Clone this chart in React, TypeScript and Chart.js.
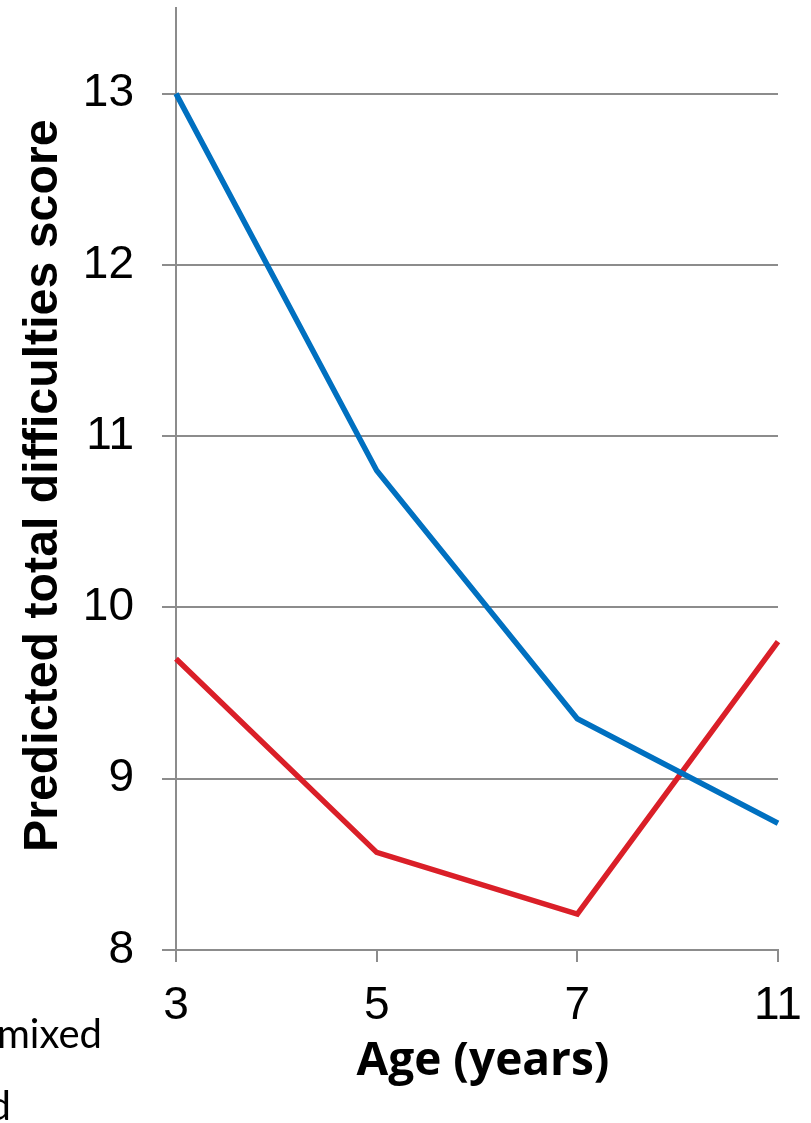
import React, { useEffect, useRef } from "react";
import { Chart, registerables } from "chart.js";

Chart.register(...registerables);

const ageLabels = ["3", "5", "7", "11"];
const blueSeries = [13.0, 10.8, 9.35, 8.74];
const redSeries = [9.7, 8.57, 8.21, 9.8];
const yTickValues = [8, 9, 10, 11, 12, 13];
const legendFragments = ["mixed", "d"];

const OFFSET_X = 200;

const legendPlugin = {
  id: "croppedLegend",
  afterDraw(chart: any) {
    const ctx = chart.ctx;
    ctx.save();
    ctx.fillStyle = "#000";
    ctx.font = "40px Lato";
    ctx.textAlign = "right";
    ctx.textBaseline = "alphabetic";
    ctx.fillText(legendFragments[0], OFFSET_X + 102, 1048);
    ctx.fillText(legendFragments[1], OFFSET_X + 11, 1120);
    ctx.restore();
  },
};

export default function App() {
  const ref = useRef<HTMLCanvasElement | null>(null);
  useEffect(() => {
    if (!ref.current) return;
    const chart = new Chart(ref.current, {
      type: "line",
      data: {
        labels: ageLabels,
        datasets: [
          {
            label: "Blue",
            data: blueSeries,
            borderColor: "#0070C0",
            backgroundColor: "#0070C0",
            borderWidth: 5.5,
            pointRadius: 0,
            tension: 0,
          },
          {
            label: "Red",
            data: redSeries,
            borderColor: "#DA1F28",
            backgroundColor: "#DA1F28",
            borderWidth: 5.5,
            pointRadius: 0,
            tension: 0,
          },
        ],
      },
      options: {
        animation: false,
        responsive: true,
        maintainAspectRatio: false,
        layout: { padding: { left: OFFSET_X + 11, right: 122, top: 8, bottom: 34 } },
        plugins: { legend: { display: false }, tooltip: { enabled: false } },
        scales: {
          x: {
            offset: false,
            grid: {
              drawOnChartArea: false,
              drawTicks: true,
              tickLength: 12,
              color: "#8c8c8c",
              lineWidth: 2,
            },
            border: { display: true, color: "#8c8c8c", width: 2 },
            ticks: {
              color: "#000",
              padding: 17,
              font: { family: "Liberation Sans", size: 46 },
              maxRotation: 0,
              autoSkip: false,
            },
            title: {
              display: true,
              text: " Age (years)",
              color: "#000",
              font: { family: "Open Sans", size: 46, weight: "bold" },
              padding: { top: 0, bottom: 0 },
            },
            afterFit: (s: any) => {
              s.height = 139;
              s.paddingLeft = 0;
              s.paddingRight = 0;
            },
          },
          y: {
            min: 8,
            max: 13.5,
            afterBuildTicks: (s: any) => {
              s.ticks = yTickValues.map((v) => ({ value: v }));
            },
            grid: {
              drawTicks: true,
              tickLength: 14,
              color: "#8c8c8c",
              lineWidth: 2,
            },
            border: { display: true, color: "#8c8c8c", width: 2 },
            ticks: {
              color: "#000",
              padding: 28,
              font: { family: "Liberation Sans", size: 46 },
            },
            title: {
              display: true,
              text: "Predicted total difficulties score ",
              color: "#000",
              font: { family: "Liberation Sans", size: 48.3, weight: "bold" },
              padding: { top: 4, bottom: 4 },
            },
            afterFit: (s: any) => {
              s.width = 165;
              s.paddingTop = 0;
              s.paddingBottom = 0;
            },
          },
        },
      },
      plugins: [legendPlugin],
    });
    return () => chart.destroy();
  }, []);

  return (
    <div
      style={{
        position: "fixed",
        left: 0,
        top: 0,
        width: 811,
        height: 1123,
        overflow: "hidden",
        background: "#fff",
      }}
    >
      <div
        style={{
          position: "absolute",
          left: -OFFSET_X,
          top: 0,
          width: 1100,
          height: 1123,
        }}
      >
        <canvas ref={ref} />
      </div>
    </div>
  );
}
